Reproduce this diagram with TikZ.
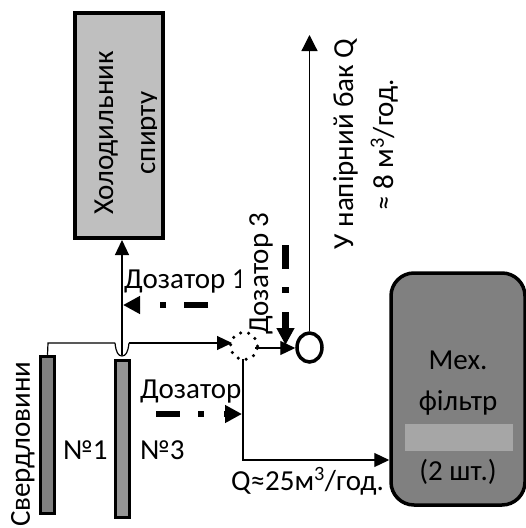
\documentclass[tikz,border=0pt]{standalone}
\usepackage{fontspec}
\setmainfont{Carlito}
\usetikzlibrary{arrows.meta,shapes.geometric}
\tikzset{
  x=1pt,y=-1pt,
  lbl/.style={inner sep=0pt,font=\fontsize{29}{32}\selectfont,text=black},
  rlbl/.style={lbl,rotate=90,anchor=base},
  well/.style={draw=black,line width=3.5pt,inner sep=0pt,minimum width=14pt,minimum height=157pt},
  conn/.style={draw=black,line width=1.2pt},
  arr/.style={conn,-{Triangle[length=15pt,width=14pt]}},
  dasharr/.style={draw=black,line width=6.5pt,-{Triangle[length=17pt,width=17pt]}},
}
\begin{document}
\begin{tikzpicture}
\path[use as bounding box] (0,0) rectangle (526,528);
% cooler
\node[draw=black,line width=4pt,fill=black!25,minimum width=88pt,minimum height=225pt,inner sep=0pt] (cooler) at (119,125.5) {};
\node[rlbl] (t1) at (113,133) {Холодильник};
\begin{scope}
\clip (130,60) rectangle (156,200);
\node[rlbl] (t2) at (155,133) {спирту};
\end{scope}
% wells
\node[well,fill=black!50] (w1) at (47.5,435) {};
\node[well,fill=black!42] (w3) at (122.5,439) {};
% joints
\coordinate (a) at (48,343);
\coordinate (b) at (115,343);
\coordinate (c) at (129,343);
\coordinate (e) at (122,355);
\coordinate (g) at (232,343);
\coordinate (h) at (255,348);
\coordinate (h2) at (243,359);
\node[draw=black,line width=3.5pt,dash pattern=on 0pt off 8.2pt,line cap=round,circle,minimum size=27pt,inner sep=0pt] (dot) at (244,346) {};
\node[draw=black,line width=3.5pt,ellipse,minimum width=25pt,minimum height=29pt,inner sep=0pt] (o) at (309.5,347.5) {};
\node[draw=black,line width=3.5pt,fill=black!50,rounded corners=23pt,minimum width=134pt,minimum height=232pt,inner sep=0pt] (filter) at (458,389) {};
\node[fill=black!35,minimum width=108pt,minimum height=27pt,inner sep=0pt] (bar) at (459,437.5) {};
% connectors
\draw[conn] (w1.north) -- (a) -- (b);
\draw[conn] (b) .. controls (116,352) and (118,356) .. (122,356) .. controls (126,356) and (128,352) .. (c);
\draw[arr] (e) -- (e |- cooler.south);
\draw[arr] (c) -- (g);
\draw[arr] (h) -- (h -| o.west);
\draw[conn,-{Triangle[length=16pt,width=16pt]}] (o.north) -- (309.5,35);
\coordinate (f) at (243,460);
\draw[arr] (h2) -- (f) -- (filter.west |- f);
% dosers
\coordinate (d1s) at (208,305); \coordinate (d1e) at (123,305);
\draw[dasharr,dash pattern=on 24pt off 18pt on 6pt off 20pt on 10pt] (d1s) -- (d1e);
\coordinate (d2s) at (156,414); \coordinate (d2e) at (242,414);
\draw[dasharr,dash pattern=on 24pt off 18pt on 6pt off 20pt on 10pt] (d2s) -- (d2e);
\coordinate (d3s) at (285.5,245); \coordinate (d3e) at (285.5,345);
\draw[dasharr,dash pattern=on 24pt off 18pt on 6pt off 19pt on 30pt] (d3s) -- (d3e);
% labels
\begin{scope}
\clip (100,260) rectangle (240,300);
\node[lbl,anchor=base west] (l1) at (124,288) {Дозатор 1};
\end{scope}
\node[rlbl,anchor=base west] (l3) at (268,335) {Дозатор 3};
\node[lbl,anchor=base west] (l2) at (140,398) {Дозатор};
\node[lbl,anchor=base west] (n1) at (63,459) {№1};
\node[lbl,anchor=base west] (n3) at (140,459) {№3};
\node[rlbl,anchor=base west] (s) at (30,527) {Свердловини};
\node[lbl,anchor=base west] (q) at (231,490) {Q≈25м\textsuperscript{3}/год.};
\node[rlbl] (u1) at (353,144) {У напірний бак Q};
\node[rlbl] (u2) at (393,145) {≈ 8 м\textsuperscript{3}/год.};
\node[lbl] (m1) at (458,360) {Мех.};
\node[lbl] (m2) at (458,403) {фільтр};
\node[lbl] (m3) at (458,472) {(2 шт.)};
\end{tikzpicture}
\end{document}
